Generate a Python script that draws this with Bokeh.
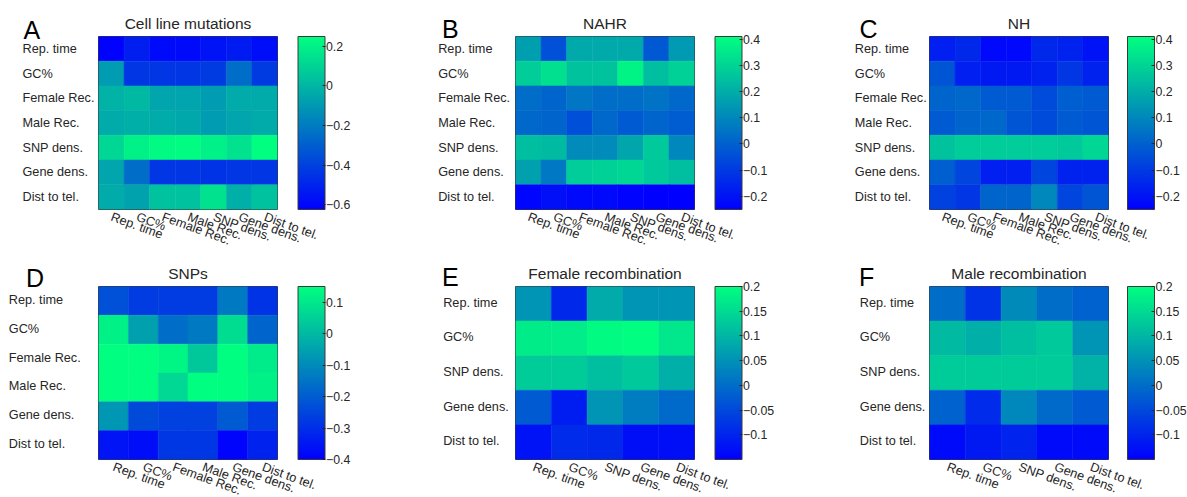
import math
from bokeh.plotting import figure
from bokeh.models import (ColumnDataSource, LinearColorMapper, ColorBar, FixedTicker,
                          FactorRange, Range1d)
from bokeh.layouts import column, row
from bokeh.core.properties import value
from bokeh.transform import transform
from bokeh.embed import file_html
from bokeh.resources import INLINE

# ---------------- data ----------------
vars7 = ["Rep. time", "GC%", "Female Rec.", "Male Rec.", "SNP dens.", "Gene dens.", "Dist to tel."]
vars6 = ["Rep. time", "GC%", "Female Rec.", "Male Rec.", "Gene dens.", "Dist to tel."]
vars5 = ["Rep. time", "GC%", "SNP dens.", "Gene dens.", "Dist to tel."]

cell_line = [
    [-0.62, -0.52, -0.59, -0.59, -0.56, -0.53, -0.58],
    [-0.09, -0.44, -0.44, -0.44, -0.42, -0.25, -0.42],
    [-0.01, 0.01, -0.06, -0.06, -0.09, -0.04, -0.04],
    [-0.04, -0.025, -0.035, -0.05, -0.09, -0.06, -0.04],
    [0.11, 0.20, 0.23, 0.24, 0.20, 0.15, 0.25],
    [-0.06, -0.25, -0.44, -0.44, -0.45, -0.44, -0.44],
    [-0.04, -0.07, 0.04, 0.04, 0.15, -0.025, 0.04],
]
nahr = [
    [0.16, -0.04, 0.19, 0.19, 0.19, -0.02, 0.15],
    [0.28, 0.33, 0.255, 0.255, 0.38, 0.24, 0.29],
    [0.035, 0.01, 0.055, 0.035, 0.035, 0.048, 0.02],
    [0.02, 0.01, -0.045, 0.02, -0.015, 0.01, -0.01],
    [0.24, 0.23, 0.11, 0.11, 0.18, 0.27, 0.10],
    [0.165, 0.06, 0.28, 0.29, 0.305, 0.27, 0.24],
    [-0.235, -0.21, -0.225, -0.225, -0.24, -0.25, -0.25],
]
nh = [
    [-0.17, -0.145, -0.225, -0.225, -0.145, -0.16, -0.2],
    [-0.03, -0.17, -0.185, -0.185, -0.16, -0.11, -0.16],
    [0.01, 0.02, -0.015, -0.015, -0.055, -0.005, -0.015],
    [-0.015, 0.01, 0.02, -0.03, -0.055, -0.015, -0.03],
    [0.255, 0.28, 0.28, 0.28, 0.28, 0.27, 0.305],
    [-0.005, -0.07, -0.17, -0.17, -0.07, -0.16, -0.16],
    [-0.08, -0.11, 0.01, 0.01, 0.10, -0.07, -0.03],
]
snps = [
    [-0.225, -0.27, -0.27, -0.27, -0.14, -0.29],
    [0.12, -0.055, -0.165, -0.14, 0.075, -0.185],
    [0.15, 0.15, 0.13, 0.03, 0.15, 0.105],
    [0.15, 0.15, 0.065, 0.15, 0.15, 0.12],
    [-0.075, -0.24, -0.26, -0.26, -0.205, -0.27],
    [-0.355, -0.37, -0.28, -0.28, -0.39, -0.325],
]
female_rec = [
    [0.055, -0.095, 0.085, 0.055, 0.055],
    [0.173, 0.175, 0.193, 0.2, 0.166],
    [0.13, 0.13, 0.11, 0.125, 0.09],
    [-0.025, -0.11, 0.055, 0.02, -0.005],
    [-0.125, -0.09, -0.095, -0.13, -0.13],
]
male_rec = [
    [0.0, -0.08, 0.04, 0.0, -0.015],
    [0.105, 0.09, 0.11, 0.125, 0.055],
    [0.13, 0.13, 0.13, 0.13, 0.095],
    [-0.015, -0.09, 0.035, -0.005, -0.025],
    [-0.135, -0.115, -0.1, -0.135, -0.135],
]

clim_a = (-0.625, 0.25)
clim_bc = (-0.25, 0.41)
clim_d = (-0.4, 0.15)
clim_ef = (-0.15, 0.2)

ticks_a = [-0.6, -0.4, -0.2, 0, 0.2]
ticks_bc = [-0.2, -0.1, 0, 0.1, 0.2, 0.3, 0.4]
ticks_d = [-0.4, -0.3, -0.2, -0.1, 0, 0.1]
ticks_ef = [-0.1, -0.05, 0, 0.05, 0.1, 0.15, 0.2]

# MATLAB "winter" colormap
winter = ["#%02x%02x%02x" % (0, i, 255 - i // 2) for i in range(256)]

FONT = "Liberation Sans"
TXT = "#262626"
FW, FH = 179, 173
BOTTOM = 48
T1, T2 = 36, 28
PAGE_H = 497
ROW2_TOP = T1 + FH + BOTTOM + T2   # frame top of the second row (px)


def label_fig(width, panels):
    """Full-height strip holding the left-aligned row labels and panel letters."""
    p = figure(x_range=Range1d(0, width), y_range=Range1d(PAGE_H, 0),
               frame_width=width, frame_height=PAGE_H,
               min_border_left=0, min_border_right=0, min_border_top=0,
               min_border_bottom=0, toolbar_location=None, output_backend="svg",
               title=None)
    p.axis.visible = False
    p.grid.visible = False
    p.outline_line_color = None
    for cats, letter, top, lab_x, let_x, let_base in panels:
        n = len(cats)
        src = ColumnDataSource(dict(y=[top + (i + 0.5) * FH / n for i in range(n)],
                                    t=list(cats)))
        p.text(x=lab_x, y="y", text="t", source=src,
               text_align="left", text_baseline="middle",
               text_font=value(FONT), text_font_size=value("12.7px"), text_color=TXT)
        p.text(x=[let_x], y=[let_base], text=[letter],
               text_align="left", text_baseline="alphabetic",
               text_font=value(FONT), text_font_size=value("25px"), text_color="#000000")
    return p


def heat_fig(title, cats, vals, clim, ticks, right, top, cb_gap=20.5):
    p = figure(x_range=FactorRange(factors=cats),
               y_range=FactorRange(factors=cats[::-1]),
               frame_width=FW, frame_height=FH,
               min_border_left=1, min_border_right=right,
               min_border_top=top, min_border_bottom=BOTTOM,
               toolbar_location=None, output_backend="svg", title=title)
    p.title.text_font = FONT
    p.title.text_font_size = "15.5px"
    p.title.text_font_style = "normal"
    p.title.text_color = TXT
    p.title.align = "center"
    p.title.standoff = 10

    mapper = LinearColorMapper(palette=winter, low=clim[0], high=clim[1])
    xs, ys, vs = [], [], []
    for i, rname in enumerate(cats):
        for j, cname in enumerate(cats):
            xs.append(cname)
            ys.append(rname)
            vs.append(vals[i][j])
    src = ColumnDataSource(dict(x=xs, y=ys, v=vs))
    p.rect(x="x", y="y", width=1, height=1, source=src,
           fill_color=transform("v", mapper), line_color=transform("v", mapper),
           line_width=0.5)

    p.grid.visible = False
    p.outline_line_color = "#3a3a3a"
    p.outline_line_width = 1
    p.yaxis.visible = False
    ax = p.xaxis[0]
    ax.axis_line_color = None
    ax.major_tick_line_color = None
    ax.minor_tick_line_color = None
    ax.major_label_orientation = -math.radians(20)
    ax.major_label_standoff = 1
    ax.major_label_text_font = FONT
    ax.major_label_text_font_size = "12.7px"
    ax.major_label_text_color = TXT

    cb = ColorBar(color_mapper=mapper, ticker=FixedTicker(ticks=ticks),
                  location=(FW + cb_gap, 0), width=27, height=FH,
                  padding=0, margin=0, label_standoff=1,
                  major_label_text_font=FONT, major_label_text_font_size="12.3px",
                  major_label_text_color=TXT,
                  major_tick_in=3, major_tick_out=0, major_tick_line_color="#222222",
                  minor_tick_line_color=None, bar_line_color="#3a3a3a",
                  background_fill_alpha=0, border_line_color=None)
    p.add_layout(cb)
    return p


lab1 = label_fig(97, [(vars7, "A", T1, 22, 23, 29.3), (vars6, "D", ROW2_TOP, 8.3, 25.5, 277.3)])
lab2 = label_fig(114, [(vars7, "B", T1, 37.7, 41.5, 28.3), (vars5, "E", ROW2_TOP, 42.7, 41.5, 276.7)])
lab3 = label_fig(113, [(vars7, "C", T1, 39.3, 44, 28.3), (vars5, "F", ROW2_TOP, 44.3, 43.5, 276.7)])

hA = heat_fig("Cell line mutations", vars7, cell_line, clim_a, ticks_a, 123, T1)
hB = heat_fig("NAHR", vars7, nahr, clim_bc, ticks_bc, 121, T1)
hC = heat_fig("NH", vars7, nh, clim_bc, ticks_bc, 79, T1, cb_gap=19)
hD = heat_fig("SNPs", vars6, snps, clim_d, ticks_d, 123, T2)
hE = heat_fig("Female recombination", vars5, female_rec, clim_ef, ticks_ef, 121, T2)
hF = heat_fig("Male recombination", vars5, male_rec, clim_ef, ticks_ef, 79, T2, cb_gap=19)

layout = row(lab1, column(hA, hD), lab2, column(hB, hE), lab3, column(hC, hF))

open("out.html", "w").write(file_html(layout, INLINE))
